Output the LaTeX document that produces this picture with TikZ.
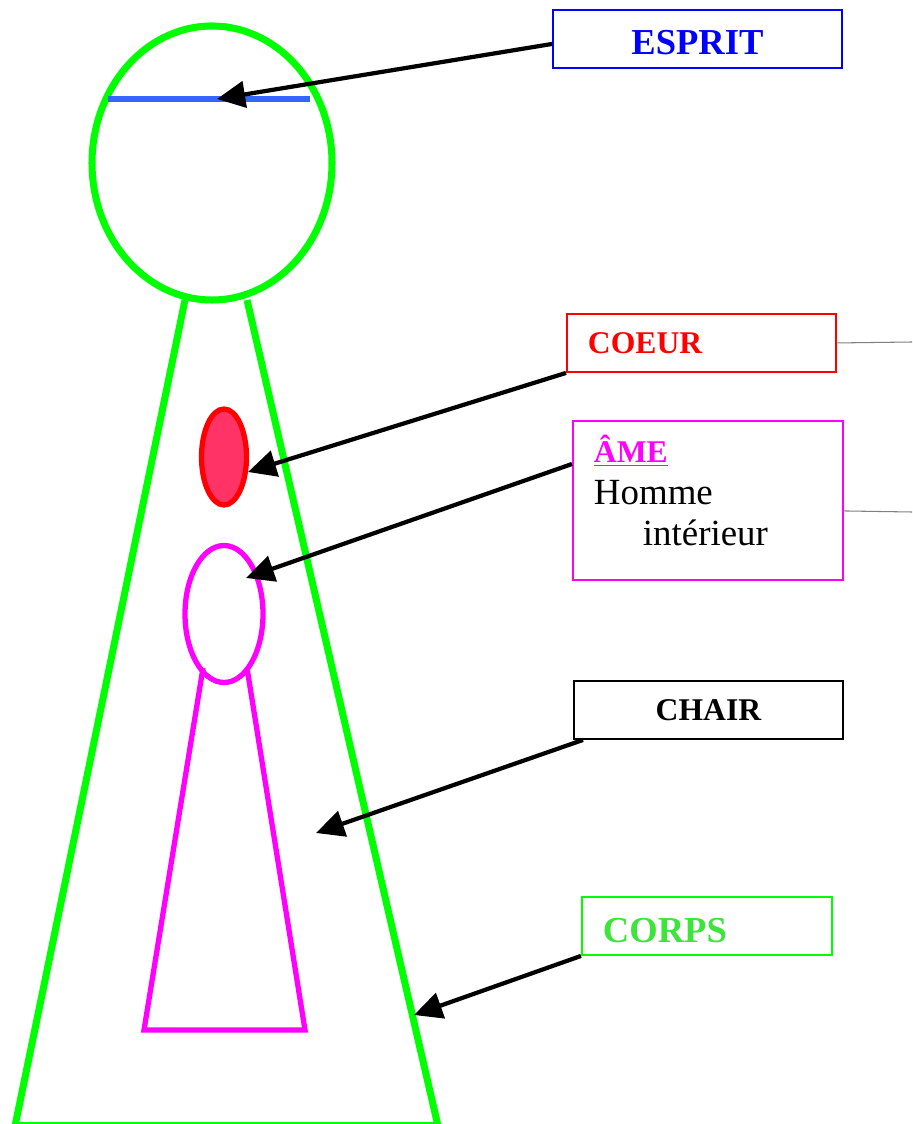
\documentclass[tikz,border=0pt]{standalone}
\usepackage{fontspec}
\setmainfont{Liberation Serif}
\usetikzlibrary{arrows.meta}
\definecolor{vert}{RGB}{0,255,0}
\definecolor{vertclair}{RGB}{60,228,60}
\definecolor{bleu}{RGB}{0,0,255}
\definecolor{bleutrait}{RGB}{51,102,255}
\definecolor{rouge}{RGB}{255,0,0}
\definecolor{rose}{RGB}{255,51,102}
\definecolor{mauve}{RGB}{255,0,255}

\begin{document}
\begin{tikzpicture}[x=0.02cm, y=-0.02cm,
	box/.style = {draw, line width=1.1pt, anchor=north west, inner ysep=0pt, minimum height=1.16cm},
	gauche/.style = {inner xsep=0.42cm, align=left},
	fleche/.style = {line width=2.4pt, -{Triangle[length=16pt, width=15pt]}},
	titre/.style = {font=\bfseries\fontsize{18}{22}\selectfont}] 
	\useasboundingbox (0,0) rectangle (912,1124);
	% le corps
	\draw[vert, line width=4pt] (212,163) ellipse [x radius=120, y radius=137];
	\draw[vert, line width=4pt] (185,300) -- (15,1126);
	\draw[vert, line width=4pt] (247,300) -- (438,1126);
	\draw[vert, line width=1pt] (15,1123) -- (438,1123);
	\draw[bleutrait, line width=3.4pt] (108,99) -- (310,99);
	\draw[rouge, fill=rose, line width=3pt] (224,457) ellipse [x radius=22.5, y radius=48];
	\draw[mauve, line width=3pt] (224,614) ellipse [x radius=39, y radius=68.5];
	\draw[mauve, line width=3pt] (203,668) -- (144,1030) -- (305,1030) -- (247,668);
	\coordinate (e) at (217,99);
	\coordinate (c) at (248,472);
	\coordinate (a) at (246,578);
	\coordinate (ch) at (316,833);
	\coordinate (co) at (414,1015);
	\coordinate (d1) at (912,342);
	\coordinate (d2) at (912,512);
	% les cadres
	\node[box, draw=bleu, text=bleu, minimum width=5.78cm, font=\bfseries\fontsize{20.8}{25}\selectfont] (esprit) at (552,9) {\raisebox{-0.08cm}[\height][\depth]{ESPRIT}};
	\node[box, gauche, draw=rouge, text=rouge, text width=4.54cm, titre] (coeur) at (566,313) {COEUR};
	\node[box, gauche, draw=mauve, text width=4.56cm, minimum height=3.18cm, font=\fontsize{21}{23.5}\selectfont] (ame) at (572,420) {{\bfseries\fontsize{18}{23.5}\selectfont\color{mauve}\underline{ÂME}}\\Homme\\\hspace*{0.98cm}intérieur\\[-0.43cm]\mbox{}};
	\node[box, draw=black, minimum width=5.38cm, titre] (chair) at (573,680) {CHAIR};
	\node[box, gauche, draw=vert, text=vertclair, text width=4.16cm, font=\bfseries\fontsize{20.8}{25}\selectfont] (corps) at (581,896) {\raisebox{-0.1cm}[\height][\depth]{CORPS}};
	% les fleches
	\draw[fleche] ([yshift=-0.1cm]esprit.west) -- (e);
	\draw[fleche] (coeur.south west) -- (c);
	\draw[fleche] ([yshift=-0.88cm]ame.north west) -- (a);
	\draw[fleche] ([xshift=0.2cm]chair.south west) -- (ch);
	\draw[fleche] (corps.south west) -- (co);
	\draw[gray, line width=0.6pt] (coeur.east) -- (d1);
	\draw[gray, line width=0.6pt] ([yshift=-0.21cm]ame.east) -- (d2);
\end{tikzpicture}
\end{document}
